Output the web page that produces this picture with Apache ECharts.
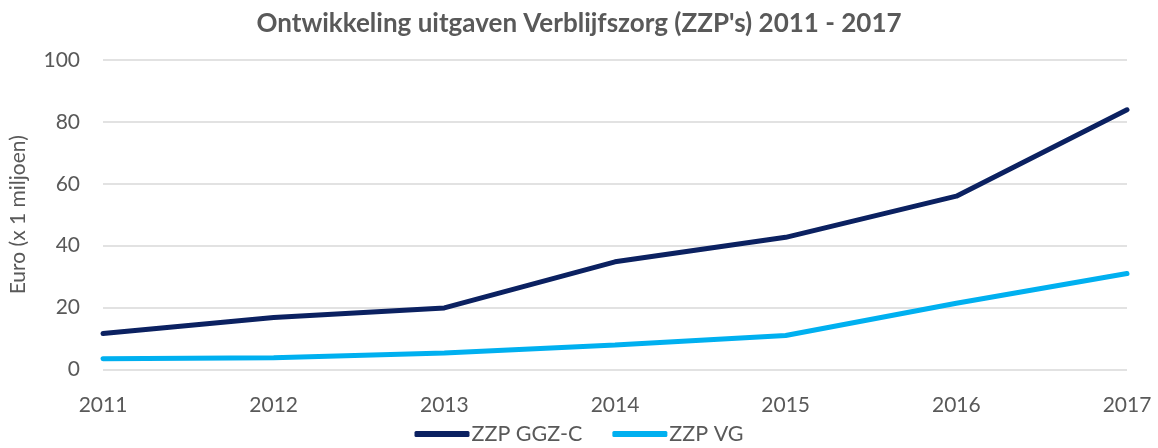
<!DOCTYPE html>
<html>
<head>
<meta charset="utf-8">
<script src="https://cdn.jsdelivr.net/npm/echarts@6/dist/echarts.min.js"></script>
<style>html,body{margin:0;padding:0;background:#fff;}#c{width:1158px;height:448px;}</style>
</head>
<body>
<div id="c"></div>
<script>
var categories = ['2011','2012','2013','2014','2015','2016','2017'];
var ggzC = [11.6, 16.8, 19.9, 34.8, 42.7, 56.0, 83.9];
var vg = [3.5, 3.8, 5.3, 7.9, 11.0, 21.4, 31.0];
var seriesNames = ['ZZP GGZ-C', 'ZZP VG'];
var yTicks = {min: 0, max: 100, interval: 20};

var font = 'Lato, "Open Sans", sans-serif';
var chart = echarts.init(document.getElementById('c'));
chart.setOption({
  animation: false,
  title: {
    text: "Ontwikkeling uitgaven Verblijfszorg (ZZP's) 2011 - 2017",
    left: 'center', top: 6,
    textStyle: {fontFamily: font, fontWeight: 'bold', fontSize: 26, color: '#595959'}
  },
  legend: {
    bottom: -2, left: 'center',
    itemWidth: 55, itemHeight: 6, itemGap: 30,
    icon: 'roundRect',
    textStyle: {fontFamily: font, fontSize: 21.5, color: '#595959', padding: [0,0,0,-3]},
    data: seriesNames
  },
  grid: {left: 101, right: 31, top: 60, bottom: 78.5},
  xAxis: {
    type: 'category', data: categories, boundaryGap: false,
    axisLine: {show: false}, axisTick: {show: false},
    axisLabel: {fontFamily: font, fontSize: 21, color: '#595959', margin: 25}
  },
  yAxis: {
    type: 'value', min: yTicks.min, max: yTicks.max, interval: yTicks.interval,
    name: 'Euro (x 1 miljoen)', nameLocation: 'middle', nameGap: 74,
    nameTextStyle: {fontFamily: font, fontSize: 21, color: '#595959'},
    axisLine: {show: false}, axisTick: {show: false},
    axisLabel: {fontFamily: font, fontSize: 21, color: '#595959', margin: 23},
    splitLine: {lineStyle: {color: '#d9d9d9', width: 1.5}}
  },
  series: [
    {name: seriesNames[0], type: 'line', data: ggzC, showSymbol: false, symbol: 'none',
     lineStyle: {color: '#0b2161', width: 5, cap: 'round'}, itemStyle: {color: '#0b2161'}},
    {name: seriesNames[1], type: 'line', data: vg, showSymbol: false, symbol: 'none',
     lineStyle: {color: '#00b0f0', width: 5, cap: 'round'}, itemStyle: {color: '#00b0f0'}}
  ]
});
</script>
</body>
</html>
